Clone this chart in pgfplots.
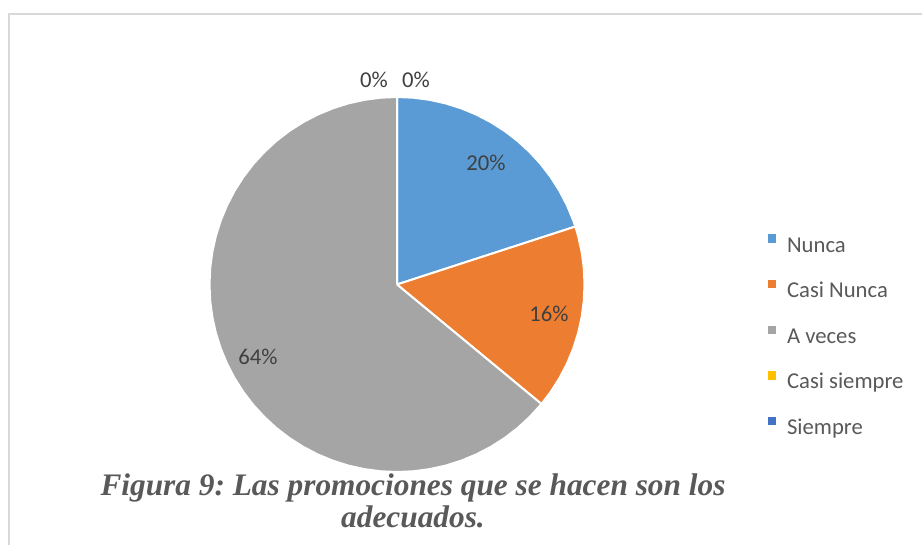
\documentclass[border=0pt]{standalone}
\usepackage{fontspec}
\setmainfont{Carlito}
\newfontfamily\capfont{Liberation Serif}
\usepackage{pgfplots}
\pgfplotsset{compat=1.18}
\frenchspacing
\definecolor{cNunca}{HTML}{5B9BD5}
\definecolor{cCasiNunca}{HTML}{ED7D31}
\definecolor{cAveces}{HTML}{A5A5A5}
\definecolor{cCasiSiempre}{HTML}{FFC000}
\definecolor{cSiempre}{HTML}{4472C4}
\definecolor{txtlab}{HTML}{404040}
\definecolor{txtleg}{HTML}{595959}
\definecolor{frame}{HTML}{D9D9D9}
\pgfplotsset{
  pieleg/.style={legend image code/.code={\fill[##1,draw=none] (0pt,2.9pt) rectangle (6.3pt,9.2pt);}},
}
\begin{document}
\begin{tikzpicture}
\begin{axis}[
  x=0.75pt, y=0.75pt,
  xmin=-397, xmax=525, ymin=-260.5, ymax=284.5,
  hide axis, clip=false, enlargelimits=false,
  pieleg,
  legend cell align=left,
  legend style={draw=none, fill=none, inner sep=0pt, outer sep=0pt,
    at={(axis cs:371,50)}, anchor=north west,
    font=\fontsize{17pt}{20pt}\selectfont, text=txtleg,
    nodes={inner sep=0pt, text height=12pt, text depth=4pt},
    row sep=17pt,
    /tikz/every odd column/.append style={column sep=8pt}},
]
\coordinate (bbBL) at (axis cs:-397,-260.5);
\coordinate (bbTR) at (axis cs:525,284.5);
% frame
\draw[frame, line width=1.5pt] (axis cs:-388,-265) -- (axis cs:-388,270.5) -- (axis cs:530,270.5);
% Nunca 20%  (90 -> 18 deg)
\addplot[data cs=polar, fill=cNunca, draw=white, line width=1.5pt, line join=round] coordinates {
(0,0) (90,187.5) (85,187.5) (80,187.5) (75,187.5) (70,187.5) (65,187.5) (60,187.5) (55,187.5) (50,187.5) (45,187.5) (40,187.5) (35,187.5) (30,187.5) (25,187.5) (20,187.5) (18,187.5) (0,0)};
\addlegendentry{Nunca}
% Casi Nunca 16%  (18 -> -39.6 deg)
\addplot[data cs=polar, fill=cCasiNunca, draw=white, line width=1.5pt, line join=round] coordinates {
(0,0) (18,187.5) (15,187.5) (10,187.5) (5,187.5) (0,187.5) (-5,187.5) (-10,187.5) (-15,187.5) (-20,187.5) (-25,187.5) (-30,187.5) (-35,187.5) (-39.6,187.5) (0,0)};
\addlegendentry{Casi Nunca}
% A veces 64%  (-39.6 -> -270 deg)
\addplot[data cs=polar, fill=cAveces, draw=white, line width=1.5pt, line join=round] coordinates {
(0,0) (-39.6,187.5) (-45,187.5) (-50,187.5) (-55,187.5) (-60,187.5) (-65,187.5) (-70,187.5) (-75,187.5) (-80,187.5) (-85,187.5) (-90,187.5) (-95,187.5) (-100,187.5) (-105,187.5) (-110,187.5) (-115,187.5) (-120,187.5) (-125,187.5) (-130,187.5) (-135,187.5) (-140,187.5) (-145,187.5) (-150,187.5) (-155,187.5) (-160,187.5) (-165,187.5) (-170,187.5) (-175,187.5) (-180,187.5) (-185,187.5) (-190,187.5) (-195,187.5) (-200,187.5) (-205,187.5) (-210,187.5) (-215,187.5) (-220,187.5) (-225,187.5) (-230,187.5) (-235,187.5) (-240,187.5) (-245,187.5) (-250,187.5) (-255,187.5) (-260,187.5) (-265,187.5) (-270,187.5) (0,0)};
\addlegendentry{A veces}
\addlegendimage{fill=cCasiSiempre}
\addlegendentry{Casi siempre}
\addlegendimage{fill=cSiempre}
\addlegendentry{Siempre}
% data labels
\begin{scope}[every node/.style={font=\fontsize{17pt}{20pt}\selectfont, text=txtlab, inner sep=0pt}]
\node at (axis cs:89,121.5) {20\%};
\node at (axis cs:152,-29.5) {16\%};
\node at (axis cs:-139,-72.5) {64\%};
\node at (axis cs:-23,204.5) {0\%};
\node at (axis cs:19,204.5) {0\%};
\end{scope}
% caption
\node[anchor=base, align=center, text=txtleg, inner sep=0pt,
  font=\capfont\bfseries\itshape\fontsize{23.5pt}{24pt}\selectfont]
  at (axis cs:16,-243.5) {Figura 9: Las promociones que se hacen son los\\adecuados.};
\end{axis}
\pgfresetboundingbox
\path (bbBL) rectangle (bbTR);
\end{tikzpicture}
\end{document}
